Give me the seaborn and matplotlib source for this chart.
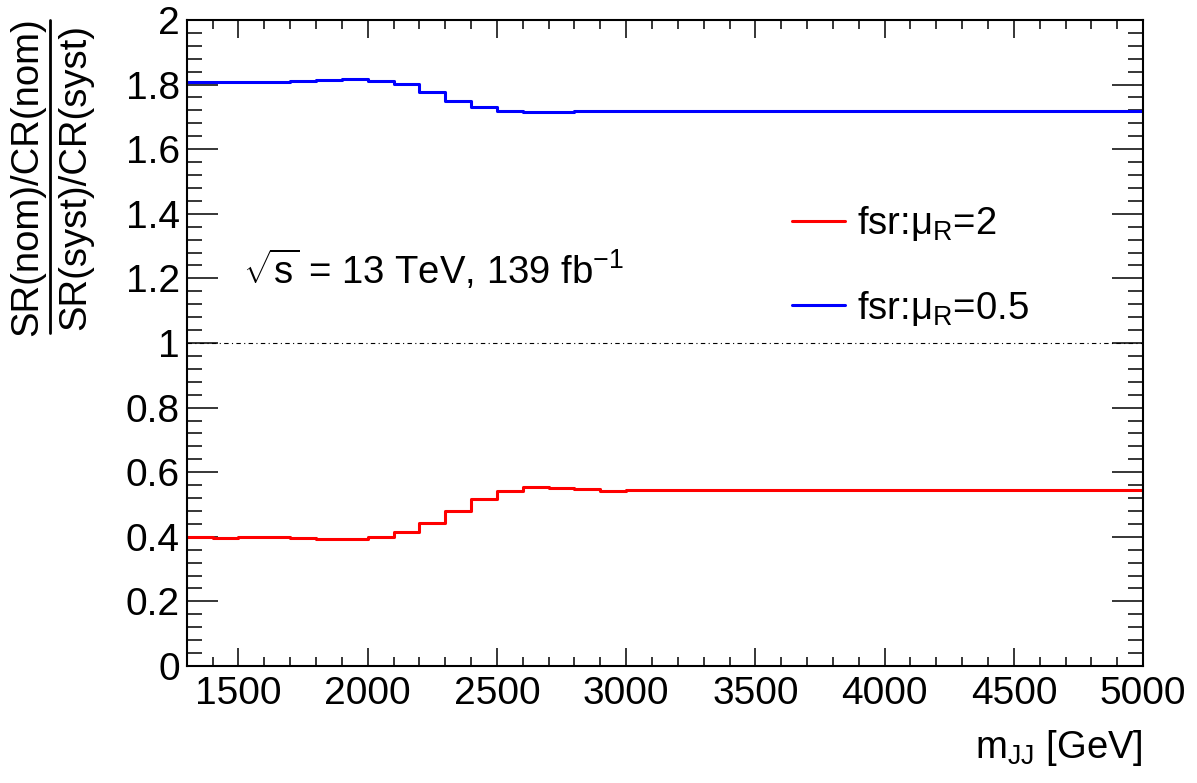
import numpy as np
import pandas as pd
import seaborn as sns
import matplotlib.pyplot as plt
from matplotlib.lines import Line2D
from matplotlib.ticker import MultipleLocator, FuncFormatter

# bin edges in m_JJ [GeV]
edges = np.arange(1300, 5001, 100)

# SR(nom)/CR(nom) / SR(syst)/CR(syst), one value per bin
fsr_mur2 = [0.398, 0.397, 0.398, 0.398, 0.397, 0.393, 0.392, 0.398, 0.414, 0.443,
            0.481, 0.518, 0.543, 0.554, 0.552, 0.547, 0.543, 0.544, 0.545, 0.545] + [0.546] * 17
fsr_mur05 = [1.807, 1.807, 1.807, 1.808, 1.811, 1.814, 1.817, 1.812, 1.801, 1.777,
             1.750, 1.730, 1.717, 1.714, 1.714, 1.717, 1.719, 1.718, 1.719, 1.718] + [1.718] * 17

labels = ["fsr:μ$_\\mathrm{R}$=2", "fsr:μ$_\\mathrm{R}$=0.5"]
colors = ["#ff0000", "#0000ff"]

rows = []
for lab, vals in zip(labels, [fsr_mur2, fsr_mur05]):
    # repeat last value at the upper edge so steps-post closes the last bin
    yv = list(vals) + [vals[-1]]
    for x, y in zip(edges, yv):
        rows.append({"mjj": x, "ratio": y, "syst": lab})
df = pd.DataFrame(rows)

sns.set_style("ticks")
plt.rcParams["font.family"] = ["Liberation Sans", "DejaVu Sans"]
plt.rcParams["mathtext.fontset"] = "custom"
plt.rcParams["mathtext.rm"] = "Liberation Sans"
plt.rcParams["mathtext.it"] = "Liberation Sans:italic"
plt.rcParams["mathtext.default"] = "regular"
for k in ["text.color", "axes.labelcolor", "xtick.color", "ytick.color", "axes.edgecolor"]:
    plt.rcParams[k] = "black"

fs = 27.5
fig = plt.figure(figsize=(11.97, 7.83), dpi=100)
ax = fig.add_axes([0.156, 0.1494, 0.799, 0.8251])

sns.lineplot(data=df, x="mjj", y="ratio", hue="syst", hue_order=labels,
             palette=colors, drawstyle="steps-post", linewidth=2.2, ax=ax,
             estimator=None, sort=True)

ax.axhline(1, color="black", linewidth=0.8, linestyle=(0, (4, 3, 1, 3)), zorder=1)

ax.set_xlim(1300, 5000)
ax.set_ylim(0, 2)
ax.yaxis.set_major_locator(MultipleLocator(0.2))
ax.yaxis.set_minor_locator(MultipleLocator(0.04))
ax.xaxis.set_major_locator(MultipleLocator(500))
ax.xaxis.set_minor_locator(MultipleLocator(100))
ax.yaxis.set_major_formatter(FuncFormatter(lambda v, p: "%g" % round(v, 2)))

for s in ax.spines.values():
    s.set_visible(True)
    s.set_linewidth(1.5)
    s.set_color("black")
ax.tick_params(which="both", direction="in", top=True, right=True, width=1.1,
               labelsize=28, color="black", labelcolor="black")
ax.tick_params(axis="y", which="major", length=22, pad=5)
ax.tick_params(axis="y", which="minor", length=10.5)
ax.tick_params(axis="x", which="major", length=13, pad=7)
ax.tick_params(axis="x", which="minor", length=6.5)

ax.set_xlabel("m$_\\mathrm{JJ}$ [GeV]", fontsize=fs, loc="right", labelpad=12)
ax.set_ylabel("")

# ROOT-style fraction label on the y axis
fig.text(27 / 1197, 1 - 177 / 783, "SR(nom)/CR(nom)", rotation=90, fontsize=fs,
         ha="center", va="center")
fig.text(75 / 1197, 1 - 177 / 783, "SR(syst)/CR(syst)", rotation=90, fontsize=fs,
         ha="center", va="center")
fig.add_artist(Line2D([50 / 1197, 50 / 1197], [1 - 20 / 783, 1 - 333 / 783],
                      transform=fig.transFigure, color="black", linewidth=2))

ax.text(0.059, 0.613, "$\\sqrt{\\mathrm{s}}$ = 13 TeV, 139 fb$^{-1}$", transform=ax.transAxes,
        fontsize=fs, ha="left", va="center")

handles, labs = ax.get_legend_handles_labels()
ax.legend(handles, labs, loc="upper left", bbox_to_anchor=(792 / 1197, 1 - 204 / 783),
          bbox_transform=fig.transFigure, frameon=False, fontsize=fs,
          handlelength=1.4, handletextpad=0.3, labelspacing=1.2,
          borderpad=0, borderaxespad=0)

fig.savefig("out.png", dpi=100)
